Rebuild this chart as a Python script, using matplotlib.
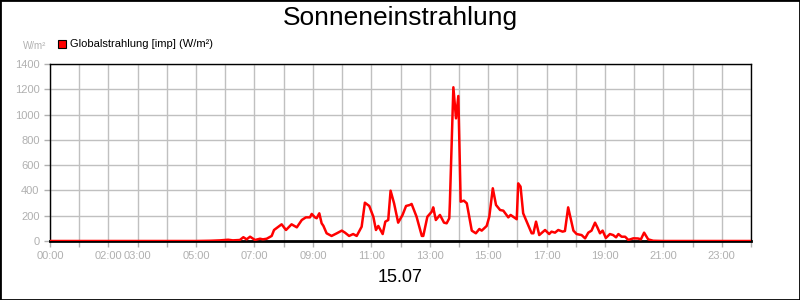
import numpy as np
import matplotlib
matplotlib.use('Agg')
import matplotlib.pyplot as plt
from matplotlib.patches import Rectangle

plt.rcParams['font.family'] = ['Liberation Sans', 'DejaVu Sans']

# time of day in hours, radiation in W/m²
hours = [0.0, 5.0, 5.5, 5.82, 6.10, 6.26, 6.50, 6.62, 6.73, 6.85, 7.02, 7.19, 7.29, 7.42,
         7.59, 7.67, 7.82, 7.93, 8.08, 8.27, 8.45, 8.62, 8.76, 8.90, 8.96, 9.07, 9.13,
         9.22, 9.30, 9.36, 9.47, 9.64, 9.82, 9.99, 10.10, 10.24, 10.38, 10.50, 10.67,
         10.78, 10.93, 11.07, 11.16, 11.24, 11.39, 11.48, 11.58, 11.66, 11.78, 11.92,
         12.07, 12.19, 12.32, 12.38, 12.55, 12.73, 12.78, 12.92, 13.07, 13.12, 13.21,
         13.35, 13.49, 13.58, 13.67, 13.69, 13.81, 13.90, 13.98, 14.06, 14.17, 14.27,
         14.44, 14.58, 14.70, 14.78, 14.95, 15.04, 15.16, 15.27, 15.41, 15.52, 15.69,
         15.77, 15.89, 15.98, 16.03, 16.11, 16.20, 16.37, 16.49, 16.55, 16.64, 16.75,
         16.95, 17.09, 17.17, 17.29, 17.40, 17.55, 17.63, 17.74, 17.92, 18.03, 18.20,
         18.32, 18.43, 18.54, 18.66, 18.74, 18.83, 18.92, 19.03, 19.17, 19.28, 19.38,
         19.46, 19.57, 19.69, 19.80, 19.97, 20.13, 20.23, 20.34, 20.48, 20.65, 20.99,
         24.0]
radiation = [0, 0, 2, 5, 10, 5, 8, 30, 13, 34, 8, 18, 13, 18,
             40, 87, 113, 132, 87, 132, 108, 166, 187, 187, 214, 187, 180,
             219, 140, 120, 61, 40, 61, 82, 66, 40, 55, 40, 113,
             303, 277, 192, 87, 119, 55, 153, 166, 398, 298, 145,
             206, 277, 285, 293, 192, 40, 40, 192, 232, 266, 166,
             206, 145, 140, 180, 298, 1216, 970, 1147, 311, 319, 298,
             82, 61, 95, 82, 119, 192, 417, 285, 245, 240, 187,
             206, 187, 172, 456, 430, 219, 127, 61, 61, 153, 47,
             87, 55, 74, 66, 87, 74, 79, 266, 82, 55, 47,
             21, 66, 82, 145, 108, 61, 82, 24, 55, 47, 29,
             55, 34, 34, 8, 21, 20, 13, 66, 13, 2, 0,
             0]

y_ticks = [0, 200, 400, 600, 800, 1000, 1200, 1400]
x_labels = {0: '00:00', 2: '02:00', 3: '03:00', 5: '05:00', 7: '07:00', 9: '09:00',
            11: '11:00', 13: '13:00', 15: '15:00', 17: '17:00', 19: '19:00',
            21: '21:00', 23: '23:00'}

grey = '#b0b0b0'
fig = plt.figure(figsize=(8, 3), dpi=100)
ax = fig.add_axes([50/800, 1-241/300, 701/800, 177/300])

ax.plot(hours, radiation, color='#ff0000', lw=1.8, zorder=3)

ax.set_xlim(0, 24)
ax.set_ylim(0, 1400)
ax.set_xticks(range(25))
ax.set_xticklabels([x_labels.get(h, '') for h in range(25)])
ax.set_yticks(y_ticks)
ax.grid(True, color='#c0c0c0', lw=1)
ax.set_axisbelow(True)
ax.tick_params(colors=grey, labelcolor=grey, labelsize=8, length=4, width=1)
for s in ['top', 'left', 'right']:
    ax.spines[s].set_linewidth(1)
    ax.spines[s].set_color('black')
ax.spines['bottom'].set_linewidth(2)

fig.text(0.5, 1-18/300, 'Sonneneinstrahlung', ha='center', va='center', fontsize=19)
fig.text(0.5, 1-277/300, '15.07', ha='center', va='center', fontsize=13)
fig.text(46/800, 1-46/300, 'W/m²', ha='right', va='center', fontsize=7, color=grey)

# legend box
fig.patches.append(Rectangle((58/800, 1-48/300), 8/800, 8/300, transform=fig.transFigure,
                             facecolor='#ff0000', edgecolor='black', lw=0.8))
fig.text(70/800, 1-44/300, 'Globalstrahlung [imp] (W/m²)', ha='left', va='center', fontsize=8)

# outer border
fig.patches.append(Rectangle((0, 0), 1, 1, transform=fig.transFigure, fill=False,
                             edgecolor='black', lw=2))

fig.savefig('out.png', dpi=100)
